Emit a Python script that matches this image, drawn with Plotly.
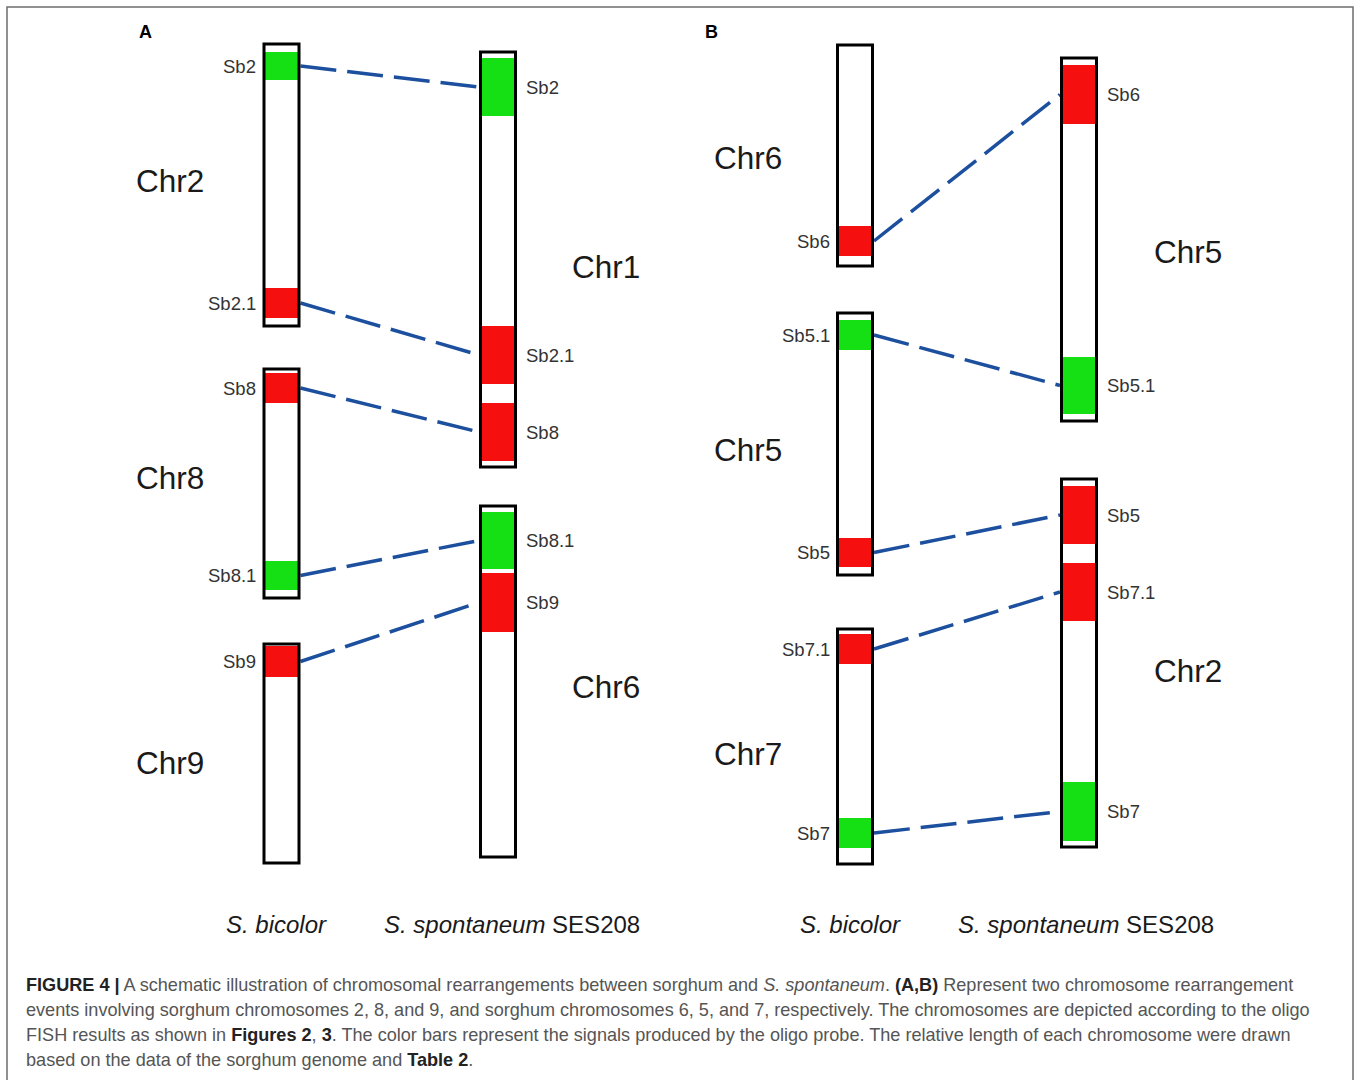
import plotly.graph_objects as go

# ---------------- DATA ----------------
# chromosomes: id, panel, column (0 = S. bicolor, 1 = S. spontaneum), name, top, bottom (schematic position units)
chrom_id     = ["A2", "A8", "A9", "A1", "A6", "B6", "B5", "B7", "B5s", "B2s"]
chrom_panel  = ["A", "A", "A", "A", "A", "B", "B", "B", "B", "B"]
chrom_col    = [0, 0, 0, 1, 1, 0, 0, 0, 1, 1]
chrom_name   = ["Chr2", "Chr8", "Chr9", "Chr1", "Chr6", "Chr6", "Chr5", "Chr7", "Chr5", "Chr2"]
chrom_top    = [44, 369, 644, 52, 506, 45, 313, 629, 58, 479]
chrom_bottom = [326, 598, 863, 467, 857, 266, 575, 864, 421, 847]

# oligo signals: chromosome id, probe label, start, end, signal colour class
sig_chrom = ["A2", "A2", "A8", "A8", "A9", "A1", "A1", "A1", "A6", "A6",
             "B6", "B5", "B5", "B7", "B7", "B5s", "B5s", "B2s", "B2s", "B2s"]
sig_label = ["Sb2", "Sb2.1", "Sb8", "Sb8.1", "Sb9", "Sb2", "Sb2.1", "Sb8", "Sb8.1", "Sb9",
             "Sb6", "Sb5.1", "Sb5", "Sb7.1", "Sb7", "Sb6", "Sb5.1", "Sb5", "Sb7.1", "Sb7"]
sig_start = [52, 288, 373, 561, 646, 58, 326, 403, 512, 573,
             226, 320, 538, 634, 818, 65, 357, 486, 563, 782]
sig_end   = [80, 318, 403, 590, 677, 116, 384, 461, 569, 632,
             256, 350, 567, 664, 848, 124, 414, 544, 621, 841]
sig_type  = ["green", "red", "red", "green", "red", "green", "red", "red", "green", "red",
             "red", "green", "red", "red", "green", "red", "green", "red", "red", "green"]

species_labels = ["S. bicolor", "S. spontaneum SES208"]
panel_labels = ["A", "B"]

caption_lines = [
    "<b>FIGURE 4 |</b> A schematic illustration of chromosomal rearrangements between sorghum and <i>S. spontaneum</i>. <b>(A,B)</b> Represent two chromosome rearrangement",
    "events involving sorghum chromosomes 2, 8, and 9, and sorghum chromosomes 6, 5, and 7, respectively. The chromosomes are depicted according to the oligo",
    "FISH results as shown in <b>Figures 2</b>, <b>3</b>. The color bars represent the signals produced by the oligo probe. The relative length of each chromosome were drawn",
    "based on the data of the sorghum genome and <b>Table 2</b>.",
]

# ---------------- LAYOUT / STYLE ----------------
W, H = 1360, 1080
COL_X = {("A", 0): 281.5, ("A", 1): 498.0, ("B", 0): 855.0, ("B", 1): 1079.0}
SPECIES_X = {("A", 0): 276.5, ("A", 1): 512, ("B", 0): 850, ("B", 1): 1086}
HALF_W = 17.5
PANEL_LETTER_X = {"A": 145, "B": 711}
NAME_X = {("A", 0): 170, ("A", 1): 606, ("B", 0): 748, ("B", 1): 1188}
NAME_DY = {"A2": -4, "A8": -6, "A9": 9, "A1": 7, "A6": 5, "B6": 2, "B5": 6, "B7": 7, "B5s": 12, "B2s": 8}
SIG_COLORS = {"green": "#14e014", "red": "#f50f0f"}
LINK_COLOR = "#1c4f9e"
FONT = "Liberation Sans, Arial, sans-serif"

fig = go.Figure()
shapes = []
annotations = []

cinfo = {}
for cid, p, c, nm, t, b in zip(chrom_id, chrom_panel, chrom_col, chrom_name, chrom_top, chrom_bottom):
    xc = COL_X[(p, c)]
    cinfo[cid] = dict(panel=p, col=c, x0=xc - HALF_W, x1=xc + HALF_W, top=t, bottom=b)
    shapes.append(dict(type="rect", xref="x", yref="y", x0=xc - HALF_W, x1=xc + HALF_W, y0=t, y1=b,
                       fillcolor="white", line=dict(width=0), layer="above"))

# signals
for cid, lab, s, e, ty in zip(sig_chrom, sig_label, sig_start, sig_end, sig_type):
    ci = cinfo[cid]
    shapes.append(dict(type="rect", xref="x", yref="y", x0=ci["x0"], x1=ci["x1"], y0=s, y1=e,
                       fillcolor=SIG_COLORS[ty], line=dict(width=0), layer="above"))
    ym = (s + e) / 2
    if ci["col"] == 0:
        annotations.append(dict(x=ci["x0"] - 6, y=ym, xref="x", yref="y", text=lab, showarrow=False,
                                xanchor="right", yanchor="middle",
                                font=dict(family=FONT, size=18.5, color="#333333")))
    else:
        annotations.append(dict(x=ci["x1"] + 8, y=ym, xref="x", yref="y", text=lab, showarrow=False,
                                xanchor="left", yanchor="middle",
                                font=dict(family=FONT, size=18.5, color="#333333")))

# outlines
for cid in chrom_id:
    ci = cinfo[cid]
    shapes.append(dict(type="rect", xref="x", yref="y", x0=ci["x0"], x1=ci["x1"], y0=ci["top"], y1=ci["bottom"],
                       fillcolor="rgba(0,0,0,0)", line=dict(color="black", width=3), layer="above"))

# chromosome names
for cid, nm in zip(chrom_id, chrom_name):
    ci = cinfo[cid]
    yc = (ci["top"] + ci["bottom"]) / 2 + NAME_DY[cid]
    annotations.append(dict(x=NAME_X[(ci["panel"], ci["col"])], y=yc, xref="x", yref="y", text=nm,
                            showarrow=False, xanchor="center", yanchor="middle",
                            font=dict(family=FONT, size=31.5, color="#1a1a1a")))

# links between same probe on the two species
for i, (cid, lab) in enumerate(zip(sig_chrom, sig_label)):
    ci = cinfo[cid]
    if ci["col"] != 0:
        continue
    for j, (cid2, lab2) in enumerate(zip(sig_chrom, sig_label)):
        cj = cinfo[cid2]
        if cj["col"] == 1 and cj["panel"] == ci["panel"] and lab2 == lab:
            y_l = (sig_start[i] + sig_end[i]) / 2
            y_r = (sig_start[j] + sig_end[j]) / 2
            fig.add_trace(go.Scatter(x=[ci["x1"] + 1.5, cj["x0"] - 1.5], y=[y_l, y_r], mode="lines",
                                     line=dict(color=LINK_COLOR, width=3.5, dash="36px,11px"),
                                     hoverinfo="skip", showlegend=False))

# species labels
for p in panel_labels:
    for c, sl in enumerate(species_labels):
        txt = "<i>S. bicolor</i>" if c == 0 else "<i>S. spontaneum</i> SES208"
        annotations.append(dict(x=SPECIES_X[(p, c)], y=924, xref="x", yref="y",
                                text=txt, showarrow=False, xanchor="center", yanchor="middle",
                                font=dict(family=FONT, size=24, color="#1a1a1a")))

# panel letters
for p in panel_labels:
    annotations.append(dict(x=PANEL_LETTER_X[p], y=32, xref="x", yref="y", text="<b>%s</b>" % p,
                            showarrow=False, xanchor="center", yanchor="middle",
                            font=dict(family=FONT, size=18, color="black")))

# caption
for k, line in enumerate(caption_lines):
    line = line.replace("<b>", "<b><span style='color:#222222'>").replace("</b>", "</span></b>")
    annotations.append(dict(x=24, y=985 + 25 * k, xref="x", yref="y", text=line, showarrow=False,
                            xanchor="left", yanchor="middle",
                            font=dict(family=FONT, size=18.1, color="#555555")))

# frame
shapes.insert(0, dict(type="rect", xref="x", yref="y", x0=7, x1=1353, y0=7, y1=1100,
                      fillcolor="rgba(0,0,0,0)", line=dict(color="#6e6e6e", width=1.5), layer="below"))

fig.update_layout(
    width=W, height=H, margin=dict(l=0, r=0, t=0, b=0),
    paper_bgcolor="white", plot_bgcolor="white",
    xaxis=dict(range=[0, W], visible=False, fixedrange=True),
    yaxis=dict(range=[H, 0], visible=False, fixedrange=True),
    shapes=shapes, annotations=annotations,
)

fig.write_html("out.html", config={"displayModeBar": False},
               post_script="document.body.style.margin='0';document.body.style.overflow='hidden';")
